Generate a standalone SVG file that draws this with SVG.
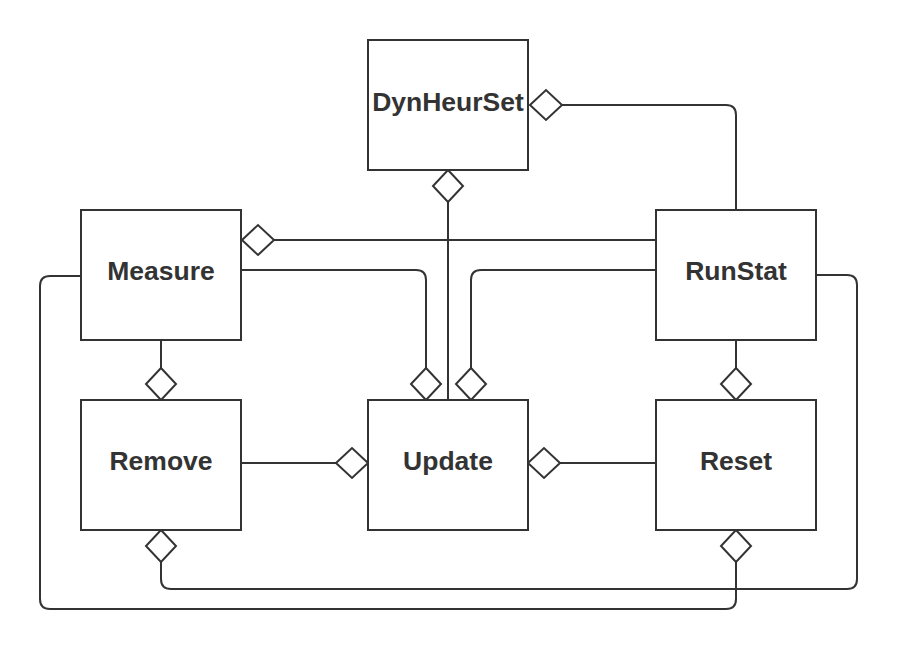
<svg xmlns="http://www.w3.org/2000/svg" width="898" height="650" viewBox="0 0 898 650">
<style>
.box{fill:#fff;stroke:#333;stroke-width:2}
.lbl{font-family:"Liberation Sans",Arial,sans-serif;font-weight:bold;font-size:26.5px;fill:#333;text-anchor:middle}
.ln{fill:none;stroke:#333;stroke-width:2}
.dm{fill:#fff;stroke:#333;stroke-width:2}
</style>
<rect width="898" height="650" fill="#fff"/>
<g id="connectors">
<path class="ln" d="M562,105 H726 Q736,105 736,115 V210"/>
<path class="ln" d="M448,202 V400"/>
<path class="ln" d="M274,240 H656"/>
<path class="ln" d="M241,270 H416 Q426,270 426,280 V368"/>
<path class="ln" d="M656,270 H481 Q471,270 471,280 V368"/>
<path class="ln" d="M161,340 V368"/>
<path class="ln" d="M736,340 V368"/>
<path class="ln" d="M241,463 H336"/>
<path class="ln" d="M560,463 H656"/>
<path class="ln" d="M816,275 H847 Q857,275 857,285 V579 Q857,589 847,589 H171 Q161,589 161,579 V562"/>
<path class="ln" d="M81,276 H50 Q40,276 40,286 V599 Q40,609 50,609 H726 Q736,609 736,599 V562"/>
<polygon class="dm" points="530,105 546,90 562,105 546,120"/>
<polygon class="dm" points="448,170 463,186 448,202 433,186"/>
<polygon class="dm" points="242,240 258,225 274,240 258,255"/>
<polygon class="dm" points="426,368 441,384 426,400 411,384"/>
<polygon class="dm" points="471,368 486,384 471,400 456,384"/>
<polygon class="dm" points="161,368 176,384 161,400 146,384"/>
<polygon class="dm" points="736,368 751,384 736,400 721,384"/>
<polygon class="dm" points="336,463 352,448 368,463 352,478"/>
<polygon class="dm" points="528,463 544,448 560,463 544,478"/>
<polygon class="dm" points="161,530 176,546 161,562 146,546"/>
<polygon class="dm" points="736,530 751,546 736,562 721,546"/>
</g>
<g id="DynHeurSet"><rect class="box" x="368" y="40" width="160" height="130"/><text class="lbl" x="448" y="111">DynHeurSet</text></g>
<g id="Measure"><rect class="box" x="81" y="210" width="160" height="130"/><text class="lbl" x="161" y="280">Measure</text></g>
<g id="RunStat"><rect class="box" x="656" y="210" width="160" height="130"/><text class="lbl" x="736" y="280">RunStat</text></g>
<g id="Remove"><rect class="box" x="81" y="400" width="160" height="130"/><text class="lbl" x="161" y="470">Remove</text></g>
<g id="Update"><rect class="box" x="368" y="400" width="160" height="130"/><text class="lbl" x="448" y="470">Update</text></g>
<g id="Reset"><rect class="box" x="656" y="400" width="160" height="130"/><text class="lbl" x="736" y="470">Reset</text></g>
</svg>
